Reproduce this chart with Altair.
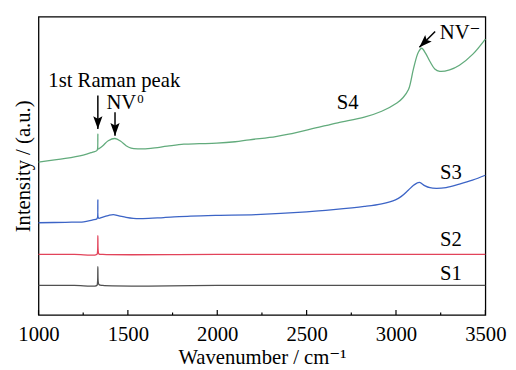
import altair as alt
import pandas as pd

FONT = "'Liberation Serif', 'Times New Roman', 'DejaVu Serif', serif"

# ---- spectra (wavenumber in cm^-1, intensity in a.u.) ----
wn_S1 = [1000, 1200, 1326, 1330, 1332, 1334, 1338, 1360, 2000, 3000, 3500]
int_S1 = [30, 30, 30, 33, 49, 34, 31, 30, 30, 30, 30]

wn_S2 = [1000, 1200, 1326, 1330, 1332, 1334, 1338, 1360, 2000, 3000, 3500]
int_S2 = [61.5, 61.5, 61.5, 64, 80.5, 65, 62, 61.5, 61.5, 61.5, 61.5]

wn_S3 = [1000, 1150, 1253, 1300, 1326, 1330, 1332, 1334, 1338, 1360, 1390, 1418,
         1450, 1490, 1530, 1584, 1700, 1850, 2000, 2217, 2500, 2650, 2823, 2920,
         2997, 3030, 3070, 3100, 3131, 3160, 3190, 3226, 3280, 3355, 3428, 3500]
int_S3 = [93.7, 94.2, 94.7, 96.5, 97.5, 99, 117, 99, 98.2, 99.5, 101, 102,
          100.8, 99.2, 98.2, 98, 99, 100.5, 101.3, 102, 104.7, 107, 110.3, 113,
          117, 120.5, 127, 132, 134.7, 131.5, 129.3, 128.7, 129.5, 133, 137, 142]

wn_S4 = [1000, 1150, 1250, 1300, 1326, 1330, 1332, 1334, 1338, 1360, 1390, 1428,
         1460, 1490, 1518, 1560, 1628, 1720, 1813, 1900, 1997, 2100, 2180, 2327,
         2400, 2550, 2674, 2823, 2920, 3005, 3040, 3070, 3098, 3125, 3144, 3165,
         3190, 3217, 3245, 3300, 3355, 3430, 3500]
int_S4 = [155.3, 159, 162.5, 165.3, 167, 168.5, 183.7, 168.5, 169, 172, 177, 179.3,
          176.5, 172, 169.5, 168.8, 169.3, 171.5, 173.5, 174, 174.5, 176, 178, 181.3,
          183.7, 190, 195.3, 201, 207, 215.3, 221, 229, 250.3, 267, 271, 266,
          257.5, 250, 247.5, 249, 253.7, 265, 280.3]

series = ["S1", "S2", "S3", "S4"]
colors = ["#505050", "#e2435a", "#3c64c6", "#62ab7c"]
widths = [1.3, 1.3, 1.6, 1.8]

# ---- axis ----
x_ticks = [1000, 1500, 2000, 2500, 3000, 3500]
x_minor = [1250, 1750, 2250, 2750, 3250]
x_domain = [1000, 3500]
y_domain = [0, 303]
major_len = 5
minor_len = 2.5

# ---- annotations ----
label_text = ["1st Raman peak", "S4", "S3", "S2", "S1"]
label_wn = [1424, 2729, 3307, 3307, 3307]
label_val = [232, 209, 137.7, 69.7, 35.3]

nv_text = ["NV", "NV\u207b"]
nv_wn = [1380, 3245]
nv_val = [209.7, 280.3]

sup_text = ["0"]
sup_wn = [1553]
sup_val = [215.5]

arrow_wn0 = [1332, 1428, 3219]
arrow_val0 = [223, 206, 288]
arrow_wn1 = [1332, 1428, 3131]
arrow_val1 = [189, 182, 272]
arrow_angle = [0, 0, 45]

rows = []
for name, w, v in [("S1", wn_S1, int_S1), ("S2", wn_S2, int_S2),
                   ("S3", wn_S3, int_S3), ("S4", wn_S4, int_S4)]:
    for a, b in zip(w, v):
        rows.append({"series": name, "wn": a, "val": b})
spec = pd.DataFrame(rows)

ticks = pd.DataFrame(
    [{"wn": t, "val": 0, "val2": major_len} for t in x_ticks]
    + [{"wn": t, "val": 0, "val2": minor_len} for t in x_minor]
)
labels = pd.DataFrame({"wn": label_wn, "val": label_val, "text": label_text})
nv = pd.DataFrame({"wn": nv_wn, "val": nv_val, "text": nv_text})
sup = pd.DataFrame({"wn": sup_wn, "val": sup_val, "text": sup_text})
arrows = pd.DataFrame({"wn": arrow_wn0, "val": arrow_val0, "wn2": arrow_wn1,
                       "val2": arrow_val1, "angle": arrow_angle})
heads = pd.DataFrame({"wn": arrow_wn1, "val": arrow_val1, "angle": arrow_angle})

X = alt.X("wn:Q", scale=alt.Scale(domain=x_domain, nice=False, zero=False),
          axis=alt.Axis(values=x_ticks, ticks=False, domain=False, grid=False,
                        labelFont=FONT, labelFontSize=21, labelColor="black",
                        labelPadding=9, format="d", labelFlush=False,
                        title="Wavenumber / cm\u207b\u00b9", titleFont=FONT,
                        titleFontSize=21, titleFontWeight="normal", titleColor="black",
                        titleBaseline="alphabetic", titleY=49.5))
Y = alt.Y("val:Q", scale=alt.Scale(domain=y_domain, nice=False, zero=False),
          axis=alt.Axis(labels=False, ticks=False, domain=False, grid=False,
                        title="Intensity / (a.u.)", titleFont=FONT, titleFontSize=21,
                        titleFontWeight="normal", titleColor="black",
                        titleBaseline="alphabetic", titleAngle=-90, titleX=-9,
                        titleY=151.5, titleAlign="center"))

lines = alt.Chart(spec).mark_line(interpolate="catmull-rom").encode(
    x=X, y=Y,
    color=alt.Color("series:N", scale=alt.Scale(domain=series, range=colors), legend=None),
    strokeWidth=alt.StrokeWidth("series:N", scale=alt.Scale(domain=series, range=widths), legend=None),
    detail="series:N",
)

tick_layer = alt.Chart(ticks).mark_rule(color="black", strokeWidth=1.2).encode(
    x=X, y=Y, y2="val2:Q"
)

shafts = alt.Chart(arrows).mark_rule(color="black", strokeWidth=1.5).encode(
    x=X, y=Y, x2="wn2:Q", y2="val2:Q"
)

head_layer = alt.Chart(heads).mark_point(
    shape="M0,0 L-0.36,-1 L0,-0.8 L0.36,-1 Z", filled=True, color="black",
    size=676, opacity=1
).encode(x=X, y=Y, angle=alt.Angle("angle:Q", scale=None))

text_center = alt.Chart(labels).mark_text(
    font=FONT, fontSize=21, color="black", baseline="alphabetic", align="center"
).encode(x=X, y=Y, text="text:N")
text_nv = alt.Chart(nv).mark_text(
    font=FONT, fontSize=21, color="black", baseline="alphabetic", align="left"
).encode(x=X, y=Y, text="text:N")
text_sup = alt.Chart(sup).mark_text(
    font=FONT, fontSize=13, color="black", baseline="alphabetic", align="left"
).encode(x=X, y=Y, text="text:N")

chart = alt.layer(lines, tick_layer, shafts, head_layer, text_center, text_nv, text_sup).properties(
    width=454, height=303,
    background="white",
    autosize=alt.AutoSizeParams(type="none"),
    padding={"left": 31, "top": 6, "right": 23, "bottom": 53},
).configure_view(stroke="black", strokeWidth=1.3)

chart.save("out.html", embed_options={"renderer": "svg", "actions": False})
